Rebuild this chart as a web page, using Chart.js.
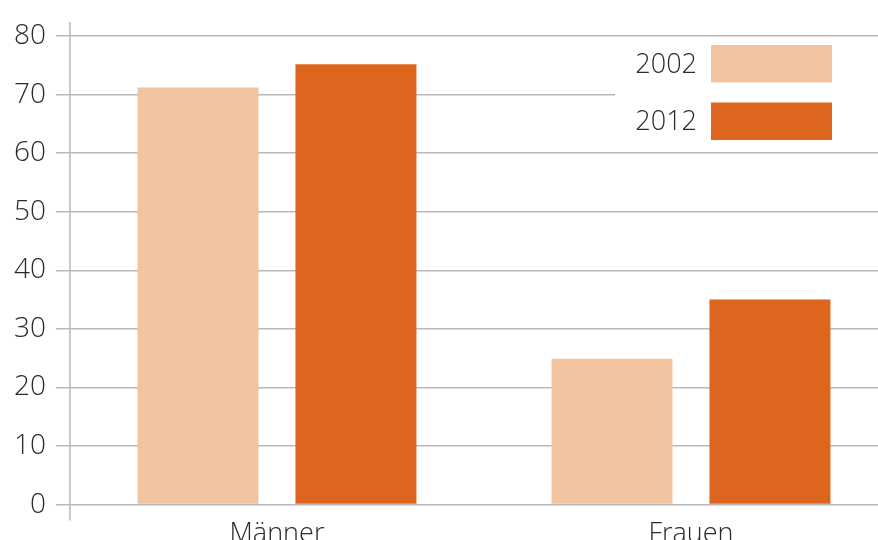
<!DOCTYPE html>
<html>
<head>
<meta charset="utf-8">
<script src="https://cdn.jsdelivr.net/npm/chart.js@4.4.0/dist/chart.umd.min.js"></script>
<style>
    html, body { margin: 0; padding: 0; background: #fff; overflow: hidden; }
    #wrap { width: 900px; height: 565px; position: relative; }
</style>
</head>
<body>
<div id="wrap"><canvas id="barChart"></canvas></div>
<script>
// Data
const categories = ['Männer', 'Frauen'];
const years = ['2002', '2012'];
const values2002 = [71.2, 24.9];
const values2012 = [75.2, 35.0];
const yTicks = [0, 10, 20, 30, 40, 50, 60, 70, 80];

const colorLight = '#F3C4A0';
const colorDark = '#DD651E';
const textColor = '#2b2b2b';
const gridColor = '#b9b9bd';
const fontFamily = '"Open Sans", Lato, sans-serif';

// Draws the y axis line (running a bit below zero) and the legend box
const decorPlugin = {
    id: 'decor',
    afterDraw(chart) {
        const ctx = chart.ctx;
        const area = chart.chartArea;
        ctx.save();
        ctx.strokeStyle = gridColor;
        ctx.lineWidth = 1.5;
        ctx.beginPath();
        ctx.moveTo(area.left, area.top);
        ctx.lineTo(area.left, area.bottom + 16);
        ctx.stroke();

        // legend with white background over the grid
        ctx.fillStyle = '#ffffff';
        ctx.fillRect(615, 39, 290, 110);
        ctx.font = '300 27px ' + fontFamily;
        ctx.textAlign = 'right';
        ctx.textBaseline = 'middle';
        chart.data.datasets.forEach(function(ds, i) {
            const top = 45 + i * 57.5;
            ctx.fillStyle = ds.backgroundColor;
            ctx.fillRect(711, top, 121, 37.5);
            ctx.fillStyle = textColor;
            ctx.fillText(ds.label, 697, top + 20);
        });
        ctx.restore();
    }
};

const ctx = document.getElementById('barChart');
new Chart(ctx, {
    type: 'bar',
    data: {
        labels: categories,
        datasets: [{
                label: years[0],
                data: values2002,
                backgroundColor: colorLight
            },
            {
                label: years[1],
                data: values2012,
                backgroundColor: colorDark
            }
        ]
    },
    options: {
        responsive: true,
        maintainAspectRatio: false,
        animation: false,
        categoryPercentage: 0.763,
        barPercentage: 0.766,
        layout: {
            padding: { left: 4, top: 22, right: 2, bottom: 0 }
        },
        plugins: {
            legend: { display: false },
            tooltip: { enabled: false }
        },
        scales: {
            x: {
                grid: { display: false, drawTicks: false },
                border: { display: false },
                ticks: {
                    color: textColor,
                    padding: 14,
                    font: { family: fontFamily, size: 27, weight: '300' }
                }
            },
            y: {
                min: 0,
                max: 82.4,
                afterBuildTicks: function(scale) {
                    scale.ticks = yTicks.map(v => ({ value: v }));
                },
                afterFit: function(scale) {
                    scale.paddingTop = 0;
                    scale.paddingBottom = 0;
                },
                grid: {
                    color: gridColor,
                    lineWidth: 1.5,
                    tickLength: 14
                },
                border: { display: false },
                ticks: {
                    color: textColor,
                    padding: 10,
                    font: { family: fontFamily, size: 28, weight: '300' }
                }
            }
        }
    },
    plugins: [decorPlugin]
});
</script>
</body>
</html>
